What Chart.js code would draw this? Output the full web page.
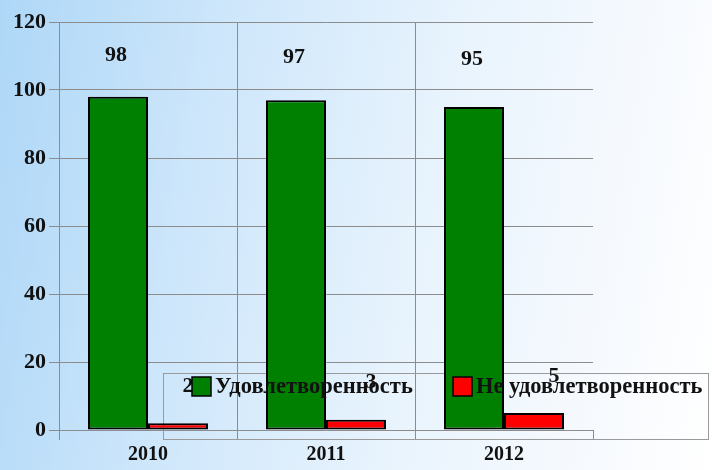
<!DOCTYPE html>
<html>
<head>
<meta charset="utf-8">
<script src="https://cdn.jsdelivr.net/npm/chart.js@4"></script>
<style>
  html, body { margin: 0; padding: 0; }
  body {
    width: 712px; height: 470px; overflow: hidden;
    background: linear-gradient(100deg, #aed7f7 0%, #cfe7fb 30%, #e9f4fd 60%, #f7fafe 85%, #ffffff 100%);
  }
  #wrap { width: 712px; height: 470px; position: relative; }
</style>
</head>
<body>
<div id="wrap"><canvas id="chart"></canvas></div>
<script>
// data
const years = ['2010', '2011', '2012'];
const satisfied = [98, 97, 95];
const notSatisfied = [2, 3, 5];
const seriesNames = ['Удовлетворенность', 'Не удовлетворенность'];
const seriesColors = ['#008000', '#ff0000'];

const FONT = "'Liberation Serif', 'Times New Roman', serif";
const GRID = '#8c8c8c';

// value labels above bars
const valueLabels = {
  id: 'valueLabels',
  afterDatasetsDraw(chart) {
    const ctx = chart.ctx;
    ctx.save();
    ctx.font = 'bold 22px ' + FONT;
    ctx.fillStyle = '#111';
    ctx.textAlign = 'center';
    ctx.textBaseline = 'middle';
    chart.data.datasets.forEach((ds, i) => {
      const meta = chart.getDatasetMeta(i);
      meta.data.forEach((bar, j) => {
        const dx = i == 0 ? -2 : 10 + j * 5;
        const dy = i == 0 ? 0.4 * bar.y + 17 : bar.y - 37;
        ctx.fillText(ds.data[j], bar.x + dx, dy);
      });
    });
    ctx.restore();
  }
};

// legend drawn by hand (box behind bars, entries on top)
const legendBox = {
  id: 'legendBox',
  beforeDatasetsDraw(chart) {
    const ctx = chart.ctx;
    ctx.save();
    ctx.strokeStyle = '#9a9a9a';
    ctx.lineWidth = 1;
    ctx.strokeRect(163.5, 373.5, 545, 66);
    ctx.restore();
  },
  afterDraw(chart) {
    const ctx = chart.ctx;
    const items = [{ x: 192 }, { x: 453 }];
    ctx.save();
    ctx.font = 'bold 22.5px ' + FONT;
    ctx.textBaseline = 'middle';
    ctx.textAlign = 'left';
    items.forEach((it, i) => {
      ctx.fillStyle = seriesColors[i];
      ctx.fillRect(it.x, 377, 19, 19);
      ctx.strokeStyle = '#000';
      ctx.lineWidth = 1.5;
      ctx.strokeRect(it.x, 377, 19, 19);
      ctx.fillStyle = '#111';
      ctx.fillText(seriesNames[i], it.x + 23, 387);
    });
    ctx.restore();
  }
};

document.addEventListener('DOMContentLoaded', () => {
  const ctx = document.getElementById('chart').getContext('2d');
  new Chart(ctx, {
    type: 'bar',
    data: {
      labels: years,
      datasets: [
        { label: seriesNames[0], data: satisfied, backgroundColor: seriesColors[0], borderColor: '#000', borderWidth: 2, borderSkipped: false },
        { label: seriesNames[1], data: notSatisfied, backgroundColor: seriesColors[1], borderColor: '#000', borderWidth: 2, borderSkipped: false }
      ]
    },
    options: {
      responsive: true,
      maintainAspectRatio: false,
      animation: false,
      devicePixelRatio: 1,
      layout: { padding: { top: 22, right: 119, bottom: 0, left: 0 } },
      datasets: { bar: { categoryPercentage: 0.674, barPercentage: 1.0 } },
      plugins: { legend: { display: false }, tooltip: { enabled: false } },
      scales: {
        x: {
          grid: {
            offset: true,
            color: c => c.type === 'tick' ? GRID : 'rgba(0,0,0,0)',
            tickColor: GRID,
            tickLength: 10,
            lineWidth: 1
          },
          border: { display: false },
          ticks: { color: '#111', font: { family: FONT, size: 20, weight: 'bold' }, padding: 3 },
          afterFit: s => { s.height = 40; }
        },
        y: {
          min: 0, max: 120,
          ticks: { stepSize: 20, color: '#111', font: { family: FONT, size: 22, weight: 'bold' }, padding: 3 },
          grid: { color: GRID, tickColor: GRID, tickLength: 10, lineWidth: 1 },
          border: { display: true, color: GRID },
          afterFit: s => { s.width = 59; }
        }
      }
    },
    plugins: [valueLabels, legendBox]
  });
});
</script>
</body>
</html>
